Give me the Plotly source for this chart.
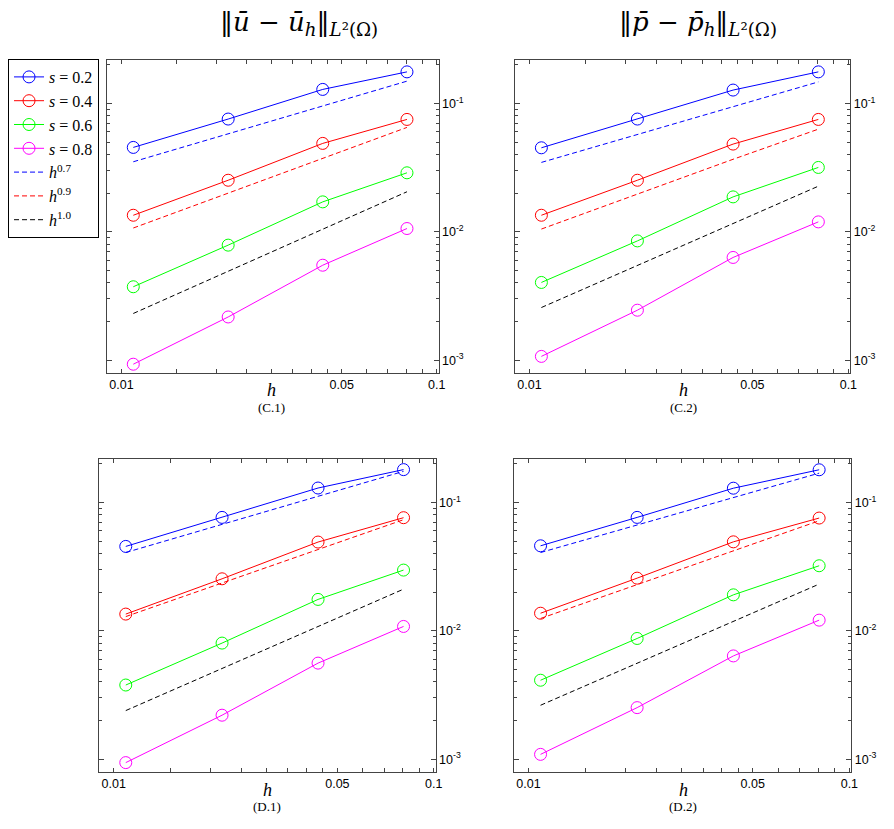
import plotly.graph_objects as go

# ---------------- data ----------------
h = [0.0109, 0.0218, 0.0435, 0.0805]

c1_s02 = [0.0454, 0.0755, 0.1285, 0.176]
c1_s04 = [0.01345, 0.0252, 0.0488, 0.0750]
c1_s06 = [0.00373, 0.00787, 0.0171, 0.0288]
c1_s08 = [0.00093, 0.00217, 0.00549, 0.0106]
c1_h07 = [0.0351, 0.058, 0.096, 0.149]
c1_h09 = [0.0107, 0.0200, 0.0375, 0.0650]
c1_h10 = [0.00231, 0.0049, 0.0105, 0.0205]

c2_s02 = [0.0451, 0.0755, 0.127, 0.176]
c2_s04 = [0.01345, 0.0252, 0.0482, 0.0750]
c2_s06 = [0.00403, 0.00849, 0.0187, 0.0317]
c2_s08 = [0.00107, 0.00245, 0.00631, 0.01194]
c2_h07 = [0.0347, 0.0573, 0.0946, 0.147]
c2_h09 = [0.0105, 0.0197, 0.0367, 0.063]
c2_h10 = [0.00257, 0.00545, 0.01161, 0.02265]

d1_s02 = [0.0454, 0.0764, 0.1294, 0.180]
d1_s04 = [0.01349, 0.0254, 0.0491, 0.0760]
d1_s06 = [0.00378, 0.00802, 0.01755, 0.0297]
d1_s08 = [0.00094, 0.00220, 0.00560, 0.01081]
d1_h07 = [0.0407, 0.0675, 0.1116, 0.1746]
d1_h09 = [0.0129, 0.0236, 0.0431, 0.0733]
d1_h10 = [0.00239, 0.0051, 0.0108, 0.0211]

d2_s02 = [0.0459, 0.0764, 0.129, 0.1795]
d2_s04 = [0.0137, 0.0257, 0.0493, 0.0755]
d2_s06 = [0.00412, 0.00871, 0.01905, 0.0321]
d2_s08 = [0.00109, 0.00252, 0.00637, 0.0121]
d2_h07 = [0.0407, 0.0669, 0.1094, 0.169]
d2_h09 = [0.01247, 0.0229, 0.0420, 0.0719]
d2_h10 = [0.00263, 0.00558, 0.01189, 0.0231]

series_names = ["<i>s</i> = 0.2", "<i>s</i> = 0.4", "<i>s</i> = 0.6", "<i>s</i> = 0.8"]
ref_names = ["<i>h</i><sup>0.7</sup>", "<i>h</i><sup>0.9</sup>", "<i>h</i><sup>1.0</sup>"]
series_colors = ["#0000ff", "#ff0000", "#00ff00", "#ff00ff"]
ref_colors = ["#0000ff", "#ff0000", "#000000"]

xtick_vals = [0.01, 0.015, 0.02, 0.025, 0.03, 0.035, 0.04, 0.045, 0.05, 0.06, 0.07, 0.08, 0.09, 0.1]
xtick_text = ["0.01", "", "", "", "", "", "", "", "0.05", "", "", "", "", "0.1"]
ytick_vals = [0.001, 0.01, 0.1]
ytick_text = ["10<sup>-3</sup>", "10<sup>-2</sup>", "10<sup>-1</sup>"]
yminor_vals = [m * d for d in (0.001, 0.01, 0.1) for m in range(2, 10)]

titles = ["‖<i>ū</i> − <i>ū</i><sub><i>h</i></sub>‖<sub><i>L</i>²(Ω)</sub>",
          "‖<i>p̄</i> − <i>p̄</i><sub><i>h</i></sub>‖<sub><i>L</i>²(Ω)</sub>"]
panel_tags = ["(C.1)", "(C.2)", "(D.1)", "(D.2)"]

panels = [
    (c1_s02, c1_s04, c1_s06, c1_s08, c1_h07, c1_h09, c1_h10),
    (c2_s02, c2_s04, c2_s06, c2_s08, c2_h07, c2_h09, c2_h10),
    (d1_s02, d1_s04, d1_s06, d1_s08, d1_h07, d1_h09, d1_h10),
    (d2_s02, d2_s04, d2_s06, d2_s08, d2_h07, d2_h09, d2_h10),
]

# ---------------- layout geometry (screen pixels; page has an 8px body margin) ----------------
OFF = 8
W, H = 894 - 2 * OFF, 829 - 2 * OFF


def px(xs):
    return (xs - OFF) / W


def py(ys):
    return 1 - (ys - OFF) / H


boxes = [(106, 441, 60, 373), (518, 857, 60, 373), (98, 438, 459, 772), (517, 858, 459, 772)]

fig = go.Figure()
axcol = "#444444"

for i, pdata in enumerate(panels):
    xa = "x" if i == 0 else f"x{i+1}"
    ya = "y" if i == 0 else f"y{i+1}"
    for k in range(4):
        fig.add_trace(go.Scatter(
            x=h, y=pdata[k], mode="lines+markers", name=series_names[k],
            line=dict(color=series_colors[k], width=1),
            marker=dict(symbol="circle-open", size=12, color=series_colors[k], line=dict(width=1)),
            xaxis=xa, yaxis=ya, showlegend=(i == 0), legendrank=k))
    for k in range(3):
        fig.add_trace(go.Scatter(
            x=h, y=pdata[4 + k], mode="lines", name=ref_names[k],
            line=dict(color=ref_colors[k], width=1, dash="5px,3px"),
            xaxis=xa, yaxis=ya, showlegend=(i == 0), legendrank=4 + k))

layout = dict(width=W, height=H, margin=dict(l=0, r=0, t=0, b=0),
              paper_bgcolor="white", plot_bgcolor="white", showlegend=True)

tickfont = dict(family="Liberation Sans, Arial, sans-serif", size=12.5, color="black")
for i, (x0, x1, y0, y1) in enumerate(boxes):
    xk = "xaxis" if i == 0 else f"xaxis{i+1}"
    yk = "yaxis" if i == 0 else f"yaxis{i+1}"
    ya = "y" if i == 0 else f"y{i+1}"
    xa = "x" if i == 0 else f"x{i+1}"
    layout[xk] = dict(type="log", domain=[px(x0), px(x1)], anchor=ya,
                      range=[-2.046, -0.994], tickmode="array",
                      tickvals=xtick_vals, ticktext=xtick_text,
                      ticks="inside", ticklen=4, tickcolor=axcol, tickwidth=1,
                      showline=True, linecolor=axcol, linewidth=1, mirror="allticks",
                      showgrid=False, zeroline=False, tickfont=tickfont)
    layout[yk] = dict(type="log", domain=[py(y1), py(y0)], anchor=xa, side="right",
                      range=[-3.1, -0.662], tickmode="array",
                      tickvals=ytick_vals, ticktext=ytick_text,
                      ticks="inside", ticklen=5, tickcolor=axcol, tickwidth=1,
                      minor=dict(tickmode="array", tickvals=yminor_vals, ticks="inside",
                                 ticklen=3, tickcolor=axcol, showgrid=False),
                      showline=True, linecolor=axcol, linewidth=1, mirror="allticks",
                      showgrid=False, zeroline=False, tickfont=tickfont)

layout["legend"] = dict(x=px(6), y=py(59), xanchor="left", yanchor="top",
                        bgcolor="white", bordercolor="#000000", borderwidth=1,
                        font=dict(family="Liberation Serif, serif", size=16, color="black"),
                        tracegroupgap=0, itemwidth=30, traceorder="normal")

serif = "Liberation Serif, DejaVu Serif, serif"
ann = []
title_x = [300, 703]
for j in range(2):
    ann.append(dict(x=px(title_x[j]), y=py(24), xref="paper", yref="paper",
                    text=titles[j], showarrow=False, xanchor="center", yanchor="middle",
                    font=dict(family="DejaVu Serif, serif", size=26, color="black")))
hlab = [(272, 390, 407), (688, 390, 407), (268, 790, 806), (688, 790, 806)]
for i, (cx, yh, yt) in enumerate(hlab):
    ann.append(dict(x=px(cx), y=py(yh), xref="paper", yref="paper", text="<i>h</i>",
                    showarrow=False, xanchor="center", yanchor="middle",
                    font=dict(family=serif, size=18, color="black")))
    ann.append(dict(x=px(cx), y=py(yt), xref="paper", yref="paper", text=panel_tags[i],
                    showarrow=False, xanchor="center", yanchor="middle",
                    font=dict(family=serif, size=13, color="black")))
layout["annotations"] = ann

fig.update_layout(**layout)
fig.write_html("out.html")
